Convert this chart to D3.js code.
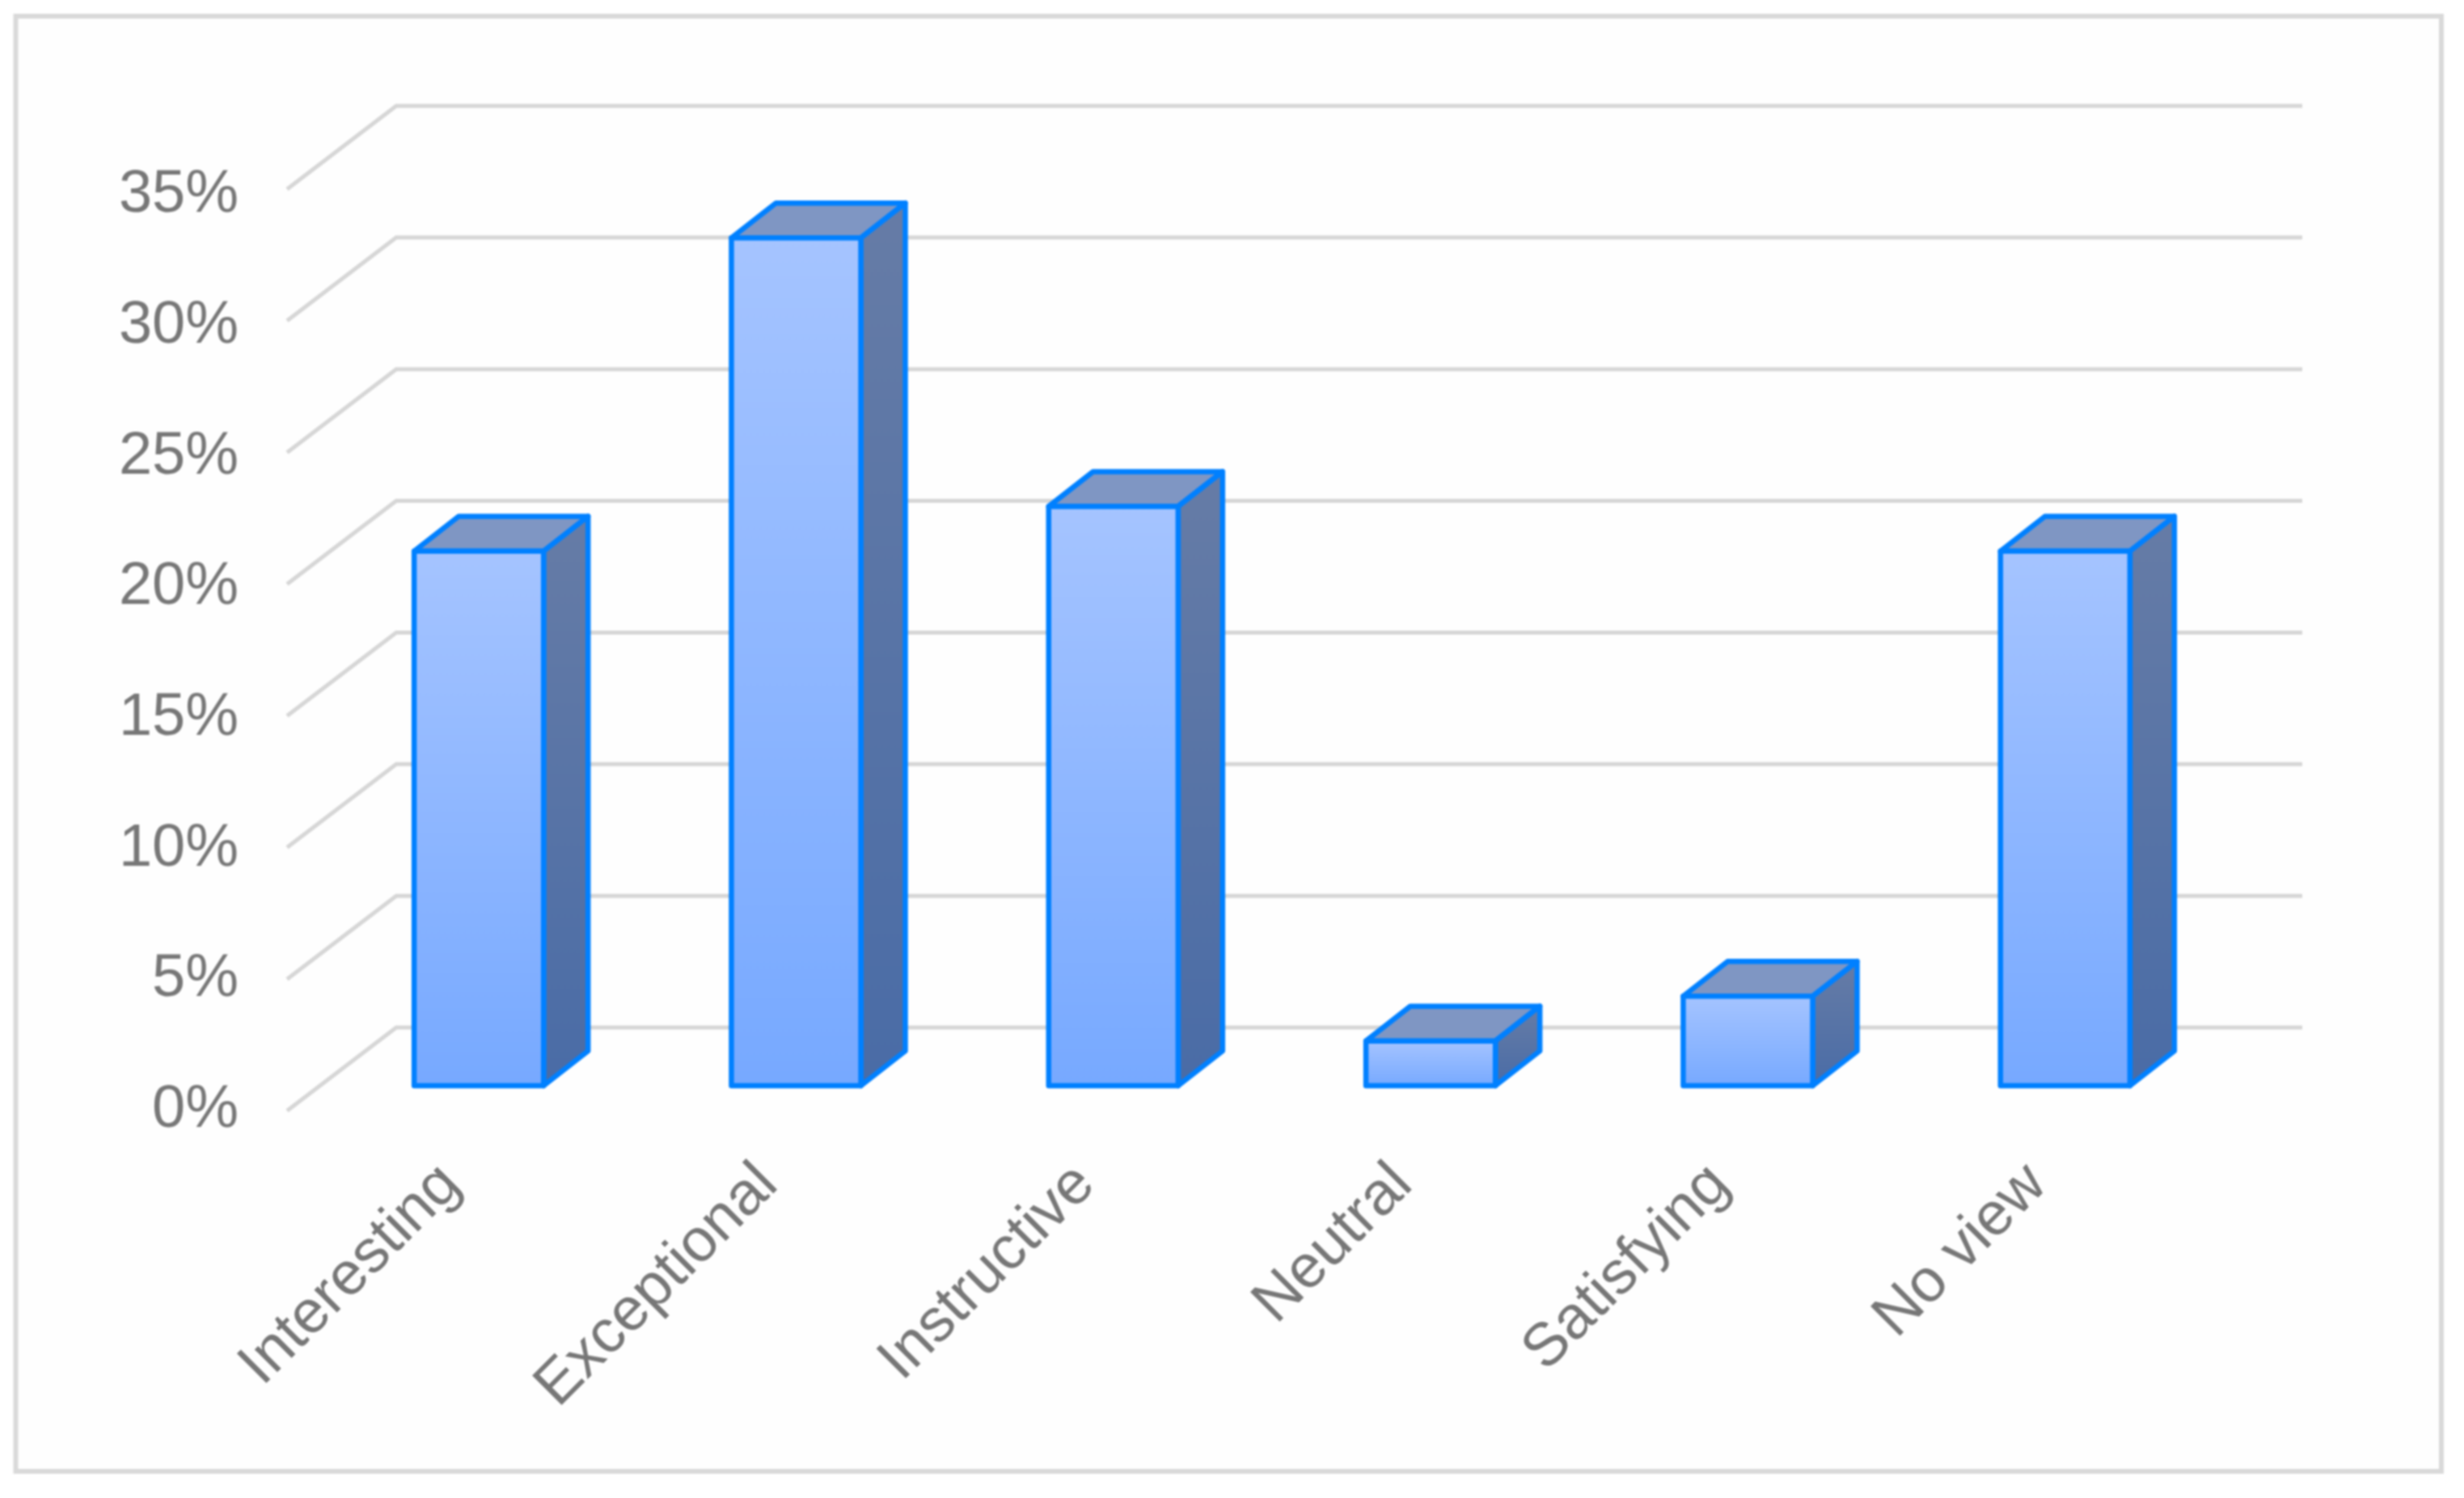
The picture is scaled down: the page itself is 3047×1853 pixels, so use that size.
<!DOCTYPE html>
<html>
<head>
<meta charset="utf-8">
<script src="https://cdn.jsdelivr.net/npm/d3@7"></script>
<style>
  html, body { margin: 0; background: #fff; }
  text { font-family: "Liberation Sans", Arial, sans-serif; fill: #777; }
  /* the reference is a soft, upscaled screenshot */
  svg { filter: blur(1px); }
</style>
</head>
<body>
<div id="chart"></div>
<script>
// values
const categories = ["Interesting", "Exceptional", "Instructive", "Neutral", "Satisfying", "No view"];
const values = [20.3, 32.2, 22.0, 1.7, 3.4, 20.3];
const yTicks = [0, 5, 10, 15, 20, 25, 30, 35];

const width = 3047, height = 1853;

const svg = d3.select("#chart").append("svg")
    .attr("width", width)
    .attr("height", height)
    .style("display", "block");

const defs = svg.append("defs");

function addGradient(id, top, bottom) {
  const g = defs.append("linearGradient").attr("id", id)
      .attr("x1", 0).attr("y1", 0).attr("x2", 0).attr("y2", 1);
  g.append("stop").attr("offset", "0%").attr("stop-color", top);
  g.append("stop").attr("offset", "100%").attr("stop-color", bottom);
}
addGradient("frontFill", "#a5c4ff", "#77a9ff");
addGradient("sideFill", "#667ca6", "#4a6ca6");

// outer frame
svg.append("rect")
    .attr("x", 19.5).attr("y", 20)
    .attr("width", 2999.5).attr("height", 1800)
    .attr("fill", "#fefefe")
    .attr("stroke", "#d9d9d9")
    .attr("stroke-width", 6);

const x = d3.scaleBand()
    .domain(categories)
    .range([396, 2750])
    .paddingInner(0.592)
    .paddingOuter(0.296);

const y = d3.scaleLinear()
    .domain([0, 35])
    .range([1343, 203]);

// the labels are spaced a touch tighter than the gridlines
const yLabel = d3.scaleLinear()
    .domain([0, 35])
    .range([1339, 207]);

// floor offsets of the fake 3d box, relative to the plane the bars stand on
const frontOff = {dx: -41, dy: 31};
const backOff = {dx: 94, dy: -72};
const depth = {dx: 55, dy: -43};

// gridlines: slanted part on the side wall, then flat along the back wall
svg.append("g")
  .selectAll("path")
  .data(yTicks)
  .join("path")
    .attr("fill", "none")
    .attr("stroke", "#d6d6d6")
    .attr("stroke-width", 5)
    .attr("d", d => {
      const x0 = x.range()[0];
      const x1 = x.range()[1];
      return "M" + (x0 + frontOff.dx) + "," + (y(d) + frontOff.dy)
        + "L" + (x0 + backOff.dx) + "," + (y(d) + backOff.dy)
        + "L" + (x1 + backOff.dx + 3) + "," + (y(d) + backOff.dy);
    });

// y axis labels, sitting on the front edge of the gridlines
const yAxisG = svg.append("g")
    .attr("transform", "translate(" + (x.range()[0] + frontOff.dx) + "," + frontOff.dy + ")")
    .call(d3.axisLeft(yLabel).tickValues(yTicks).tickSize(0).tickPadding(60).tickFormat(d => d + "%"));
yAxisG.select(".domain").remove();
yAxisG.selectAll("text")
    .attr("font-size", 74)
    .attr("dy", "0.32em");

// bars
const bars = svg.append("g")
  .selectAll("g")
  .data(categories.map((c, i) => ({cat: c, val: values[i]})))
  .join("g")
    .attr("stroke", "#0080ff")
    .attr("stroke-width", 6.5)
    .attr("stroke-linejoin", "round");

// top face
bars.append("path")
    .attr("fill", "#7f96c3")
    .attr("d", d => {
      const l = x(d.cat), r = l + x.bandwidth(), t = y(d.val);
      return "M" + l + "," + t + "L" + (l + depth.dx) + "," + (t + depth.dy)
        + "L" + (r + depth.dx) + "," + (t + depth.dy) + "L" + r + "," + t + "Z";
    });

// side face
bars.append("path")
    .attr("fill", "url(#sideFill)")
    .attr("d", d => {
      const r = x(d.cat) + x.bandwidth(), t = y(d.val), b = y(0);
      return "M" + r + "," + t + "L" + (r + depth.dx) + "," + (t + depth.dy)
        + "L" + (r + depth.dx) + "," + (b + depth.dy) + "L" + r + "," + b + "Z";
    });

// front face
bars.append("rect")
    .attr("fill", "url(#frontFill)")
    .attr("x", d => x(d.cat))
    .attr("y", d => y(d.val))
    .attr("width", x.bandwidth())
    .attr("height", d => y(0) - y(d.val));

// category labels, rotated and anchored at their end
svg.append("g")
  .selectAll("text")
  .data(categories)
  .join("text")
    .attr("text-anchor", "end")
    .attr("font-size", 75)
    .attr("transform", d => "translate(" + (x(d) + x.bandwidth() / 2 - 20) + ",1468) rotate(-45)")
    .text(d => d);
</script>
</body>
</html>
